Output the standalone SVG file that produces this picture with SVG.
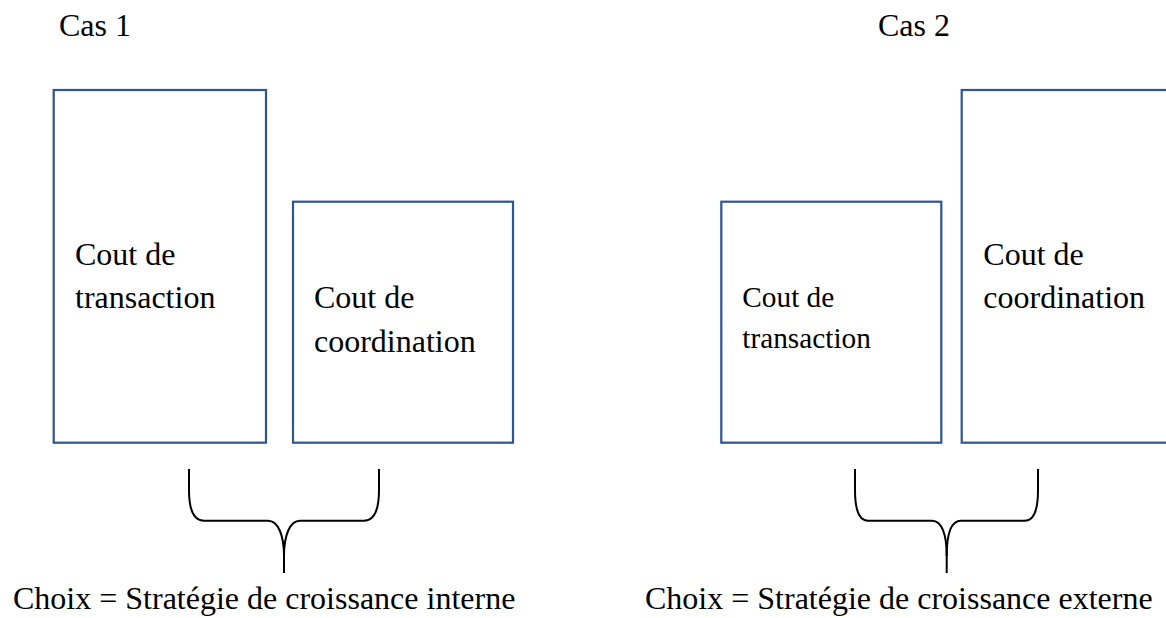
<svg xmlns="http://www.w3.org/2000/svg" width="1166" height="618" viewBox="0 0 1166 618">
<style>
.box{fill:#ffffff;stroke:#2F5590;stroke-width:2.2}
text{font-family:'Liberation Serif','Times New Roman',Times,'DejaVu Serif',serif;fill:#000}
.t{font-size:32px}
.ts{font-size:29.3px}
.brace{fill:none;stroke:#000;stroke-width:2}
</style>
<rect width="1166" height="618" fill="#ffffff"/>
<text class="t" x="59" y="36">Cas 1</text>
<text class="t" x="878" y="36">Cas 2</text>
<g id="node-transaction-1">
<rect class="box" x="53.7" y="90" width="212.3" height="352.7"/>
<text class="t" x="75" y="265">Cout de</text>
<text class="t" x="75" y="308">transaction</text>
</g>
<g id="node-coordination-1">
<rect class="box" x="293" y="201.7" width="220" height="241"/>
<text class="t" x="314" y="308">Cout de</text>
<text class="t" x="314" y="352">coordination</text>
</g>
<g id="node-transaction-2">
<rect class="box" x="721.3" y="201.7" width="220" height="241"/>
<text class="ts" x="742.3" y="306.7">Cout de</text>
<text class="ts" x="742.3" y="348">transaction</text>
</g>
<g id="node-coordination-2">
<rect class="box" x="961.7" y="90" width="220" height="352.7"/>
<text class="t" x="983.3" y="265">Cout de</text>
<text class="t" x="983.3" y="308">coordination</text>
</g>
<g id="connectors">
<path class="brace" d="M189,469 L189,490 C189,510 194,520.7 204,520.7 L268,520.7 C278,520.7 284,535 284,556 L284,573"/>
<path class="brace" d="M379,469 L379,490 C379,510 374,520.7 364,520.7 L300,520.7 C290,520.7 284,535 284,556"/>
<path class="brace" d="M855,469 L855,490 C855,510 859,520.7 868,520.7 L932,520.7 C942,520.7 946.7,535 946.7,556 L946.7,573"/>
<path class="brace" d="M1038,469 L1038,490 C1038,510 1034,520.7 1025,520.7 L961,520.7 C951,520.7 946.7,535 946.7,556"/>
</g>
<text class="t" x="13" y="609">Choix = Stratégie de croissance interne</text>
<text class="t" x="645" y="609">Choix = Stratégie de croissance externe</text>
</svg>
